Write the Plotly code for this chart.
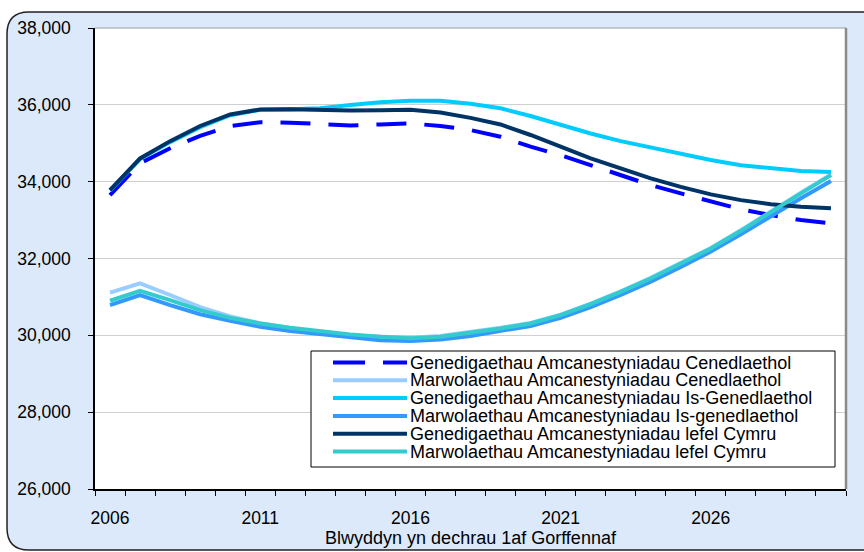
"""Births and deaths projections for Wales, Plotly recreation."""

import plotly.graph_objects as go

years = list(range(2006, 2031))
tick_years = [2006, 2011, 2016, 2021, 2026]

births_national = [33650, 34480, 34870, 35190, 35450, 35545, 35535, 35500, 35465, 35490,
                   35515, 35450, 35345, 35170, 34910, 34690, 34430, 34170, 33910, 33695,
                   33480, 33280, 33130, 33000, 32915]
deaths_national = [31110, 31355, 31050, 30735, 30490, 30315, 30185, 30075, 29995, 29955,
                   29940, 29980, 30080, 30195, 30325, 30540, 30825, 31145, 31495, 31885,
                   32275, 32735, 33230, 33710, 34185]
births_sub = [33770, 34590, 35030, 35420, 35730, 35870, 35885, 35910, 35995, 36065,
              36105, 36105, 36030, 35910, 35710, 35475, 35255, 35055, 34885, 34720,
              34565, 34430, 34345, 34275, 34250]
deaths_sub = [30785, 31045, 30785, 30550, 30380, 30225, 30110, 30030, 29945, 29875,
              29850, 29890, 29985, 30115, 30245, 30455, 30735, 31050, 31395, 31780,
              32180, 32630, 33110, 33570, 34020]
births_wales = [33780, 34605, 35055, 35450, 35750, 35880, 35885, 35860, 35850, 35860,
                35875, 35800, 35660, 35490, 35215, 34910, 34605, 34345, 34085, 33865,
                33670, 33520, 33415, 33345, 33305]
deaths_wales = [30900, 31160, 30915, 30655, 30455, 30310, 30200, 30110, 30025, 29965,
                29925, 29965, 30065, 30180, 30310, 30525, 30810, 31130, 31480, 31870,
                32260, 32720, 33215, 33695, 34170]

series = [
    ("Genedigaethau Amcanestyniadau Cenedlaethol", births_national, "#0000ff", "30px,18px"),
    ("Marwolaethau Amcanestyniadau Cenedlaethol", deaths_national, "#99ccff", "solid"),
    ("Genedigaethau Amcanestyniadau Is-Genedlaethol", births_sub, "#00ccff", "solid"),
    ("Marwolaethau Amcanestyniadau Is-genedlaethol", deaths_sub, "#3399ff", "solid"),
    ("Genedigaethau Amcanestyniadau lefel Cymru", births_wales, "#003366", "solid"),
    ("Marwolaethau Amcanestyniadau lefel Cymru", deaths_wales, "#33cccc", "solid"),
]

W, H = 864, 552
L, R, T, B = 95, 18, 28, 63
FONT = "Liberation Sans, Arial, sans-serif"


def px(x, y):
    """Convert canvas pixels to paper coordinates."""
    return (x - L) / (W - L - R), (H - B - y) / (H - T - B)


def frame_path(x0, y0, x1, y1, r):
    """Outer frame in canvas pixels: rounded on the left, open past the right edge."""
    pts = [
        ("M", px(x1, y0)), ("L", px(x0 + r, y0)), ("Q", px(x0, y0), px(x0, y0 + r)),
        ("L", px(x0, y1 - r)), ("Q", px(x0, y1), px(x0 + r, y1)), ("L", px(x1, y1)),
    ]
    parts = []
    for cmd, *coords in pts:
        parts.append(cmd + " " + " ".join(f"{a},{b}" for a, b in coords))
    return " ".join(parts)


fig = go.Figure()
for name, values, color, dash in series:
    fig.add_trace(go.Scatter(
        x=years, y=values, name=name, mode="lines",
        line=dict(color=color, width=4, dash=dash),
    ))

shapes = [
    dict(type="path", xref="paper", yref="paper", layer="below",
         path=frame_path(7, 12, W + 40, 550, 22),
         fillcolor="#dbe9fb", line=dict(color="#222222", width=1.5)),
    dict(type="rect", xref="paper", yref="paper", layer="below",
         x0=0, y0=0, x1=1, y1=1, fillcolor="white", line=dict(width=0)),
    dict(type="line", xref="paper", yref="paper", x0=0, x1=1, y0=1, y1=1,
         line=dict(color="#9a9a9a", width=1)),
    dict(type="line", xref="paper", yref="paper", x0=1, x1=1, y0=0, y1=1,
         line=dict(color="#8a8a8a", width=2.5)),
]

# legend box drawn by hand so that its rows stay as tight as the original
lx0, ly0 = px(311, 351)
lx1, ly1 = px(835, 467)
shapes.append(dict(type="rect", xref="paper", yref="paper", x0=lx0, y0=ly0, x1=lx1, y1=ly1,
                   fillcolor="white", line=dict(color="black", width=1)))
annotations = []
for i, (name, values, color, dash) in enumerate(series):
    row_y = 362.5 + i * 17.8
    sx0, sy = px(333, row_y)
    sx1, _ = px(407, row_y)
    shapes.append(dict(type="line", xref="paper", yref="paper", x0=sx0, x1=sx1, y0=sy, y1=sy,
                       line=dict(color=color, width=4,
                                 dash="32px,18px" if dash != "solid" else "solid")))
    tx, ty = px(409, row_y)
    annotations.append(dict(xref="paper", yref="paper", x=tx, y=ty, text=name,
                            showarrow=False, xanchor="left", yanchor="middle",
                            borderpad=0, font=dict(family=FONT, size=18, color="black")))

fig.update_layout(
    width=W, height=H,
    margin=dict(l=L, r=R, t=T, b=B),
    paper_bgcolor="white", plot_bgcolor="white",
    showlegend=False,
    font=dict(family=FONT, size=17.5, color="black"),
    shapes=shapes, annotations=annotations,
    xaxis=dict(
        range=[2005.5, 2030.5], tickvals=tick_years, ticks="", showgrid=False,
        showline=True, linecolor="black", linewidth=1.5, ticklabelstandoff=12,
        minor=dict(tick0=2005.5, dtick=1, ticks="outside", ticklen=5,
                   tickcolor="black", showgrid=False),
        title=dict(text="Blwyddyn yn dechrau 1af Gorffennaf", font=dict(size=18), standoff=0),
        zeroline=False, automargin=False,
    ),
    yaxis=dict(
        range=[26000, 38000], dtick=2000, tickformat=",", ticks="outside", ticklen=5,
        tickcolor="black", showline=True, linecolor="black", linewidth=1.5,
        gridcolor="#d0d0d0", gridwidth=1, ticklabelstandoff=14, zeroline=False,
        automargin=False,
    ),
)

# the page body has a default margin that would push the chart off its frame
fig.write_html("out.html", config={"displayModeBar": False},
               post_script="document.body.style.margin = '0';")
